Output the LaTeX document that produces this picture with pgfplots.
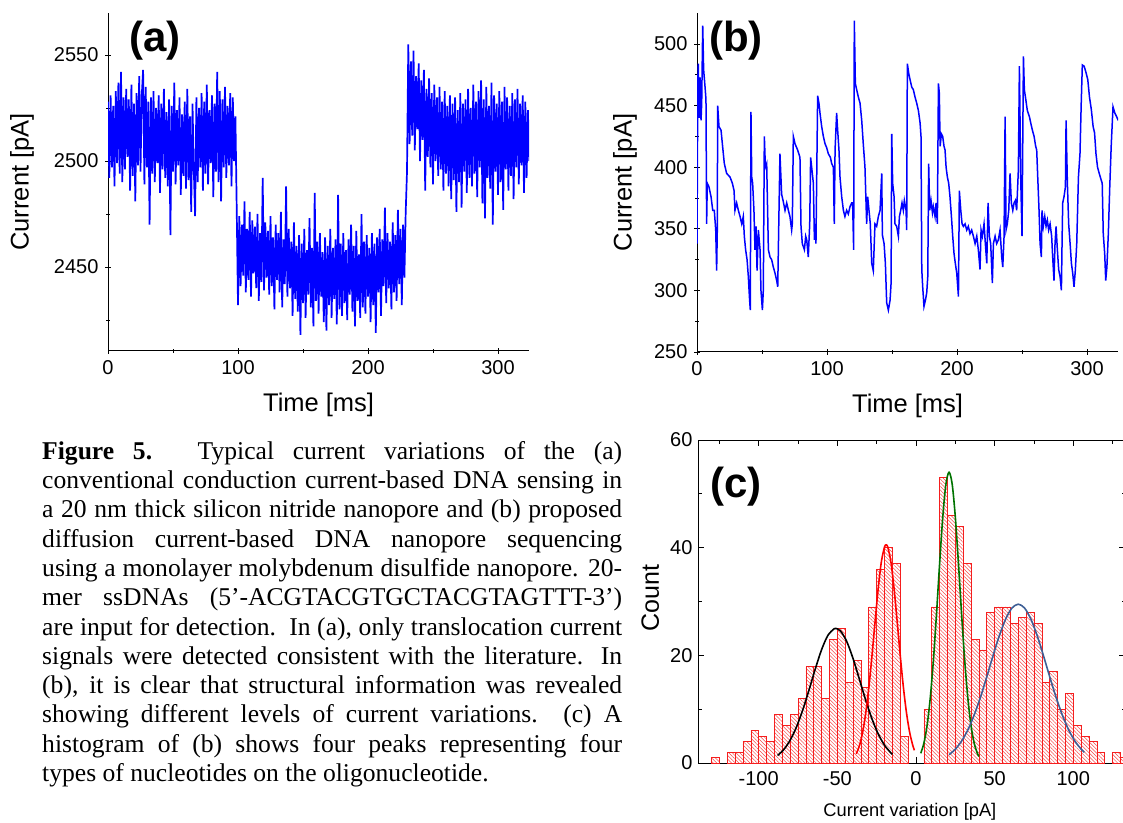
\documentclass[border=0pt]{standalone}
\usepackage{fontspec}
\setmainfont{Liberation Sans}
\newfontfamily\capfont{Liberation Serif}
\usepackage{pgfplots}
\pgfplotsset{compat=1.18}
\usetikzlibrary{patterns.meta}
\definecolor{sigblue}{RGB}{0,0,255}
\definecolor{fitgreen}{RGB}{0,115,0}
\definecolor{fitblue}{RGB}{62,95,150}
\definecolor{histred}{RGB}{245,30,30}

\pgfplotsset{
  panel/.style={
    scale only axis, anchor=south west,
    tick align=inside, major tick length=6pt, minor tick length=3.5pt,
    every tick/.style={black, line width=0.9pt},
    axis line style={line width=1pt},
    /pgf/number format/assume math mode=true,
    /pgf/number format/1000 sep={},
  },
  trace/.style={
    panel, axis lines=left, axis line style={-},
    tick label style={font=\fontsize{20}{22}\selectfont},
    yticklabel style={xshift=-3pt},
    xticklabel style={yshift=-3pt},
    label style={font=\fontsize{25.5}{28}\selectfont},
    width=421.2pt, height=338pt,
    xmin=0, xmax=324, xtick={0,100,200,300}, minor xtick={50,150,250},
    xlabel={Time [ms]}, ylabel={Current [pA]},
    xlabel style={at={(axis description cs:0.5,-0.16)}, anchor=center},
  },
}

\begin{document}
\begin{tikzpicture}
\path[use as bounding box] (0,0) rectangle (1123pt,822pt);

% (a) conduction current
\begin{axis}[trace, at={(108pt,471pt)},
  ymin=2410.4, ymax=2569.8, ytick={2450,2500,2550}, minor ytick={2425,2475,2525},
  ylabel style={at={(axis description cs:-0.204,0.5)}, anchor=center}]
\addplot[sigblue, line width=1.7pt] table[row sep=\\, header=false, x expr=\coordindex, y index=0] {
2528\\2492\\2531\\2497\\2526\\2488\\2533\\2499\\2537\\2494\\2542\\2490\\2530\\2496\\2534\\2502\\2529\\2486\\2536\\2493\\
2527\\2481\\2532\\2498\\2540\\2495\\2531\\2543\\2489\\2535\\2497\\2528\\2470\\2530\\2494\\2533\\2490\\2525\\2499\\2531\\
2485\\2527\\2496\\2534\\2492\\2523\\2488\\2529\\2465\\2526\\2495\\2537\\2489\\2524\\2498\\2530\\2484\\2522\\2493\\2528\\
2487\\2534\\2491\\2521\\2476\\2527\\2496\\2474\\2530\\2490\\2525\\2497\\2532\\2486\\2528\\2494\\2536\\2489\\2524\\2499\\
2531\\2483\\2527\\2495\\2542\\2490\\2533\\2481\\2529\\2497\\2535\\2492\\2526\\2498\\2532\\2488\\2530\\2500\\2521\\
2478\\2432\\2474\\2441\\2470\\2446\\2481\\2438\\2468\\2444\\2476\\2436\\2472\\2447\\2469\\2440\\2475\\2434\\2466\\2443\\
2492\\2439\\2471\\2445\\2467\\2437\\2474\\2441\\2464\\2430\\2470\\2444\\2466\\2438\\2476\\2431\\2463\\2442\\2488\\2436\\
2468\\2440\\2462\\2427\\2471\\2435\\2460\\2429\\2465\\2418\\2461\\2433\\2468\\2426\\2458\\2437\\2473\\2431\\2459\\2422\\
2485\\2434\\2462\\2428\\2466\\2436\\2457\\2424\\2464\\2420\\2460\\2432\\2468\\2426\\2459\\2435\\2463\\2423\\2484\\2430\\
2461\\2427\\2466\\2433\\2458\\2425\\2463\\2437\\2470\\2429\\2460\\2422\\2467\\2434\\2456\\2426\\2475\\2431\\2462\\2428\\
2465\\2436\\2459\\2424\\2466\\2432\\2461\\2419\\2464\\2438\\2468\\2427\\2463\\2441\\2478\\2433\\2466\\2440\\2462\\2430\\
2471\\2438\\2465\\2434\\2477\\2442\\2468\\2432\\2470\\2445\\2476\\
2495\\2555\\2508\\2547\\2512\\2552\\2505\\2540\\2515\\2546\\2500\\2538\\2510\\2543\\2486\\2534\\2502\\2539\\2497\\2532\\
2489\\2536\\2500\\2530\\2493\\2535\\2496\\2528\\2486\\2533\\2494\\2526\\2488\\2531\\2482\\2527\\2491\\2530\\2476\\2524\\
2490\\2532\\2478\\2527\\2495\\2529\\2485\\2534\\2492\\2525\\2488\\2536\\2494\\2528\\2483\\2533\\2497\\2538\\2480\\2529\\
2473\\2535\\2492\\2526\\2487\\2537\\2470\\2531\\2495\\2527\\2484\\2533\\2490\\2528\\2477\\2535\\2496\\2530\\2486\\2526\\
2493\\2532\\2482\\2529\\2497\\2534\\2489\\2527\\2498\\2531\\2485\\2528\\2492\\2524\\2500\\
};
\end{axis}

% (b) diffusion current
\begin{axis}[trace, at={(697pt,470pt)}, height=339pt,
  ymin=250, ymax=525.2, ytick={250,300,...,500}, minor ytick={275,325,...,475},
  ylabel style={at={(axis description cs:-0.171,0.5)}, anchor=center}]
\addplot[sigblue, line width=1.5pt] table[row sep=\\] {
t I\\
0 338\\ 0.6 470\\ 1.0 484\\ 1.6 440\\ 2.3 473\\ 3.1 438\\ 3.6 452\\ 4.4 515\\ 5.1 479\\ 6.2 465\\
6.9 455\\ 7.4 354\\ 7.9 387\\ 9.2 384\\ 10.8 376\\ 12.1 365\\ 13.3 365\\ 14.4 349\\ 15.1 316\\ 15.6 349\\
15.9 450\\ 16.9 433\\ 18.5 430\\ 19.5 419\\ 21.0 403\\ 22.8 395\\ 25.4 392\\ 27.2 387\\ 28.5 381\\ 29.2 365\\
30.5 371\\ 31.8 365\\ 33.1 360\\ 34.4 354\\ 35.6 360\\ 36.4 344\\ 37.4 333\\ 38.5 325\\ 39.5 311\\ 40.3 295\\
41.0 284\\ 41.5 445\\ 42.1 392\\ 42.8 387\\ 43.8 365\\ 44.6 333\\ 45.4 352\\ 46.2 316\\ 47.2 349\\ 48.5 333\\
49.2 300\\ 50.3 284\\ 51.0 300\\ 51.8 425\\ 52.6 400\\ 53.6 403\\ 54.9 333\\ 56.2 327\\ 57.4 325\\ 58.7 319\\
60.0 314\\ 61.3 308\\ 62.1 303\\ 63.8 411\\ 65.1 378\\ 66.4 372\\ 67.7 365\\ 69.0 371\\ 70.3 365\\ 71.5 360\\
72.8 349\\ 73.3 354\\ 74.1 425\\ 75.4 419\\ 77.4 414\\ 79.2 408\\ 80.0 352\\ 81.0 338\\ 82.6 333\\ 83.6 344\\
84.4 341\\ 85.6 327\\ 86.7 354\\ 87.4 408\\ 88.2 400\\ 89.5 387\\ 90.3 341\\ 90.8 354\\ 91.5 338\\ 92.8 458\\
93.8 452\\ 94.6 444\\ 95.9 433\\ 97.2 425\\ 98.5 419\\ 99.7 416\\ 101.0 411\\ 102.6 408\\ 103.6 403\\ 104.9 400\\
105.6 354\\ 106.2 414\\ 107.4 444\\ 108.2 430\\ 109.2 414\\ 110.0 392\\ 111.3 376\\ 112.6 365\\ 113.8 360\\ 115.1 365\\
116.4 362\\ 117.7 368\\ 119.0 371\\ 119.7 371\\ 120.5 333\\ 121.0 519\\ 121.8 468\\ 122.8 463\\ 124.1 457\\ 125.4 452\\
126.7 438\\ 127.9 419\\ 129.2 400\\ 130.5 354\\ 131.3 376\\ 132.3 365\\ 133.3 354\\ 134.4 322\\ 135.6 316\\ 136.9 354\\
138.2 352\\ 139.5 360\\ 140.8 365\\ 142.1 395\\ 142.6 345\\ 143.9 338\\ 144.9 322\\ 145.9 290\\ 147.2 284\\ 148.5 292\\
149.3 306\\ 149.8 427\\ 150.5 387\\ 151.6 376\\ 152.3 354\\ 153.6 352\\ 154.9 344\\ 155.7 360\\ 156.7 365\\ 157.7 371\\
158.7 365\\ 159.5 373\\ 160.8 365\\ 161.3 349\\ 161.8 484\\ 162.9 476\\ 163.9 471\\ 165.2 465\\ 166.4 463\\ 167.7 457\\
169.0 452\\ 170.3 446\\ 171.6 436\\ 172.3 425\\ 172.9 317\\ 173.6 303\\ 174.6 287\\ 175.7 292\\ 176.7 298\\ 177.5 311\\
178.2 403\\ 179.0 365\\ 180.0 373\\ 181.1 363\\ 181.8 368\\ 183.1 360\\ 183.9 371\\ 184.9 354\\ 185.7 468\\ 186.4 460\\
187.0 417\\ 188.0 427\\ 189.0 425\\ 190.0 417\\ 190.8 414\\ 191.6 400\\ 192.6 392\\ 193.6 387\\ 194.6 376\\ 195.7 360\\
196.7 344\\ 197.7 330\\ 198.7 322\\ 199.8 314\\ 201.1 295\\ 201.8 381\\ 202.9 365\\ 203.9 354\\ 204.9 352\\ 206.2 354\\
207.5 349\\ 208.7 352\\ 210.0 346\\ 211.3 349\\ 212.6 344\\ 213.9 338\\ 215.2 344\\ 216.4 333\\ 217.7 317\\ 218.5 349\\
219.5 344\\ 220.8 354\\ 221.8 338\\ 222.9 322\\ 223.9 371\\ 224.9 344\\ 225.9 338\\ 227.2 306\\ 228.0 338\\ 229.3 344\\
230.5 338\\ 231.8 341\\ 233.1 349\\ 234.4 327\\ 235.2 319\\ 236.2 344\\ 237.0 441\\ 237.7 349\\ 238.7 354\\ 239.8 365\\
240.8 395\\ 241.8 371\\ 242.9 365\\ 243.9 371\\ 244.9 373\\ 245.9 365\\ 247.2 398\\ 248.0 482\\ 249.0 392\\ 250.0 344\\
251.1 490\\ 251.8 463\\ 252.9 455\\ 254.1 446\\ 255.7 441\\ 256.7 436\\ 258.0 430\\ 259.3 425\\ 260.5 417\\ 261.3 414\\
262.1 392\\ 263.1 365\\ 263.9 338\\ 264.9 327\\ 265.4 365\\ 266.4 352\\ 267.5 360\\ 268.5 352\\ 269.5 357\\ 270.5 349\\
271.6 354\\ 272.8 344\\ 273.6 327\\ 274.6 308\\ 275.4 338\\ 276.2 352\\ 277.2 333\\ 278.2 317\\ 279.3 311\\ 280.3 300\\
280.8 338\\ 281.3 371\\ 282.3 376\\ 283.4 384\\ 283.9 438\\ 284.9 387\\ 285.9 354\\ 287.0 338\\ 288.0 322\\ 289.0 314\\
290.0 303\\ 291.0 316\\ 292.1 338\\ 293.4 392\\ 294.6 411\\ 295.5 450\\ 296.4 483\\ 297.8 482\\ 299.2 477\\ 300.6 471\\
301.9 457\\ 303.3 447\\ 304.7 433\\ 305.8 428\\ 306.9 411\\ 308.1 400\\ 309.4 395\\ 310.8 390\\ 311.7 387\\ 312.5 346\\
313.6 330\\ 314.4 308\\ 315.3 319\\ 316.4 346\\ 317.5 384\\ 318.6 417\\ 320.0 449\\ 321.4 444\\ 322.8 441\\ 324.0 438\\
};
\end{axis}

% (c) histogram
\begin{axis}[panel, at={(698pt,59pt)}, width=427.2pt, height=323pt,
  xmin=-138.6, xmax=133, ymin=0, ymax=60,
  xtick={-100,-50,0,50,100}, minor xtick={-125,-75,-25,25,75,125},
  ytick={0,20,40,60}, minor ytick={10,30,50},
  tick label style={font=\fontsize{20}{22}\selectfont},
  xticklabel style={yshift=-5pt},
  yticklabel style={xshift=-2pt},
  xlabel={Current variation [pA]}, ylabel={Count},
  xlabel style={font=\fontsize{18.3}{20}\selectfont, at={(axis description cs:0.496,-0.152)}, anchor=center},
  ylabel style={font=\fontsize{25}{27}\selectfont, at={(axis description cs:-0.112,0.51)}, anchor=center}]
\addplot[ybar, bar width=5, bar shift=0pt, draw=histred, line width=0.7pt,
  pattern={Lines[angle=-45,distance=2.6pt,line width=0.5pt]}, pattern color=histred!80] coordinates {
(-127.5,1) (-117.5,2) (-112.5,2) (-107.5,4) (-102.5,6) (-97.5,5) (-92.5,4) (-87.5,9) (-82.5,7) (-77.5,9)
(-72.5,12) (-67.5,18) (-62.5,18) (-57.5,12) (-52.5,23) (-47.5,25) (-42.5,15) (-37.5,19) (-32.5,14) (-27.5,29)
(-22.5,36) (-17.5,40) (-12.5,37) (-7.5,5) (7.5,10) (12.5,29) (17.5,53) (22.5,46) (27.5,44) (32.5,37)
(37.5,23) (42.5,21) (47.5,28) (52.5,29) (57.5,29) (62.5,26) (67.5,27) (72.5,28) (77.5,26) (82.5,15)
(87.5,17) (92.5,10) (97.5,13) (102.5,7) (107.5,5) (112.5,4) (117.5,2) (127.5,2) (132.5,1)};
\addplot[black, line width=1.6pt, smooth] coordinates {
(-88,1.40) (-84,2.52) (-80,4.25) (-76,6.69) (-72,9.87) (-68,13.59) (-64,17.51) (-60,21.08) (-56,23.72)
(-52,24.95) (-51,25) (-48,24.53) (-44,22.54) (-40,19.37) (-36,15.56) (-32,11.68) (-28,8.20) (-24,5.38)
(-20,3.30) (-16,1.89) (-15,1.63)};
\addplot[red, line width=1.6pt, smooth] coordinates {
(-38,1.71) (-36,3.21) (-34,5.63) (-32,9.20) (-30,14.01) (-28,19.90) (-26,26.35) (-24,32.53) (-22,37.43)
(-20,40.15) (-19,40.5) (-18,40.15) (-16,37.43) (-14,32.53) (-12,26.35) (-10,19.90) (-8,14.01) (-6,9.20)
(-4,5.63) (-2,3.21) (-1,2.36)};
\addplot[fitgreen, line width=1.6pt, smooth] coordinates {
(3,1.80) (5,3.67) (7,6.89) (9,11.90) (11,18.89) (13,27.57) (15,37.00) (17,45.65) (19,51.78) (21,54)
(23,51.78) (25,45.65) (27,37.00) (29,27.57) (31,18.89) (33,11.90) (35,6.89) (37,3.67) (39,1.80) (40,1.22)};
\addplot[fitblue, line width=1.6pt, smooth] coordinates {
(21,1.54) (25,2.57) (29,4.08) (33,6.18) (37,8.92) (41,12.25) (45,16.02) (49,19.96) (53,23.68) (57,26.75)
(61,28.79) (65,29.5) (69,28.79) (73,26.75) (77,23.68) (81,19.96) (85,16.02) (89,12.25) (93,8.92) (97,6.18)
(101,4.08) (105,2.57) (107,2.00)};
\end{axis}

\node[font=\bfseries\fontsize{42}{44}\selectfont] at (155pt,781pt) {(a)};
\node[font=\bfseries\fontsize{42}{44}\selectfont] at (736pt,781pt) {(b)};
\node[font=\bfseries\fontsize{42}{44}\selectfont] at (736pt,335pt) {(c)};

\node[anchor=north west, inner sep=0pt, align=left,
  font=\capfont\fontsize{25.6}{29.3}\selectfont] at (42pt,381pt) {%
\makebox[580pt][s]{\textbf{Figure 5.} Typical current variations of the (a)}\\
\makebox[580pt][s]{conventional conduction current-based DNA sensing in}\\
\makebox[580pt][s]{a 20 nm thick silicon nitride nanopore and (b) proposed}\\
\makebox[580pt][s]{diffusion current-based DNA nanopore sequencing}\\
\makebox[580pt][s]{using a monolayer molybdenum disulfide nanopore. 20-}\\
\makebox[580pt][s]{mer ssDNAs (5’-ACGTACGTGCTACGTAGTTT-3’)}\\
\makebox[580pt][s]{are input for detection.\ \ In (a), only translocation current}\\
\makebox[580pt][s]{signals were detected consistent with the literature. In}\\
\makebox[580pt][s]{(b), it is clear that structural information was revealed}\\
\makebox[580pt][s]{showing different levels of current variations. (c) A}\\
\makebox[580pt][s]{histogram of (b) shows four peaks representing four}\\
types of nucleotides on the oligonucleotide.};
\end{tikzpicture}
\end{document}
